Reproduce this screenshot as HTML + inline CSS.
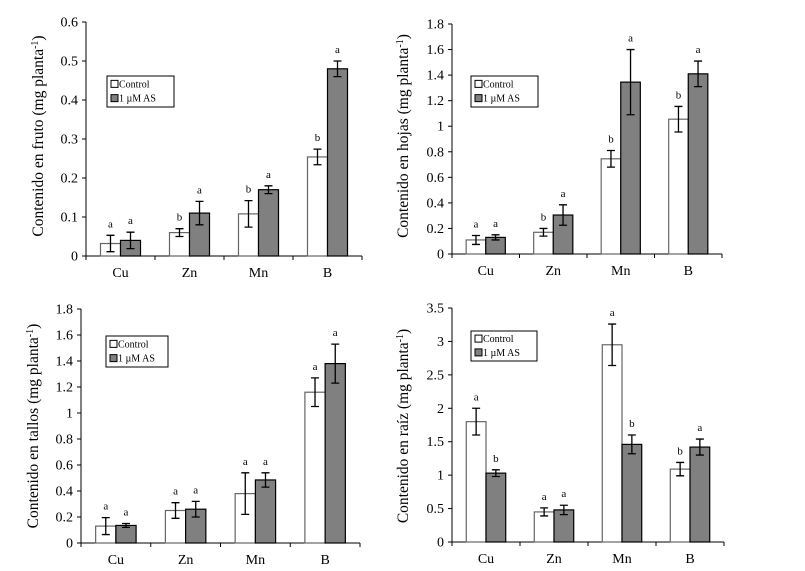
<!DOCTYPE html>
<html><head><meta charset="utf-8"><style>
body{margin:0;background:#fff;}
svg{display:block;}
svg text{font-family:"Liberation Serif","Times New Roman",serif;}
</style></head><body>
<svg id="c" width="805" height="571" viewBox="0 0 805 571" font-family="Liberation Serif, serif"></svg>
<script>
const categories=["Cu","Zn","Mn","B"];
const frutoCtl=[0.032,0.06,0.108,0.254], frutoCtlErr=[0.021,0.01,0.034,0.02];
const frutoAS=[0.04,0.11,0.17,0.48], frutoASErr=[0.021,0.03,0.01,0.02];
const frutoCtlLet=["a","b","b","b"], frutoASLet=["a","a","a","a"];
const frutoTicks=["0","0.1","0.2","0.3","0.4","0.5","0.6"];
const hojasCtl=[0.11,0.17,0.745,1.055], hojasCtlErr=[0.035,0.03,0.065,0.1];
const hojasAS=[0.13,0.305,1.345,1.41], hojasASErr=[0.02,0.08,0.255,0.1];
const hojasCtlLet=["a","b","b","b"], hojasASLet=["a","a","a","a"];
const hojasTicks=["0","0.2","0.4","0.6","0.8","1","1.2","1.4","1.6","1.8"];
const tallosCtl=[0.13,0.25,0.38,1.16], tallosCtlErr=[0.065,0.06,0.16,0.11];
const tallosAS=[0.135,0.26,0.485,1.38], tallosASErr=[0.015,0.06,0.055,0.15];
const tallosCtlLet=["a","a","a","a"], tallosASLet=["a","a","a","a"];
const tallosTicks=["0","0.2","0.4","0.6","0.8","1","1.2","1.4","1.6","1.8"];
const raizCtl=[1.8,0.45,2.95,1.09], raizCtlErr=[0.2,0.06,0.31,0.1];
const raizAS=[1.03,0.48,1.46,1.42], raizASErr=[0.05,0.07,0.14,0.12];
const raizCtlLet=["a","a","a","b"], raizASLet=["b","a","b","a"];
const raizTicks=["0","0.5","1","1.5","2","2.5","3","3.5"];

const svg=document.getElementById('c');
const NS="http://www.w3.org/2000/svg";
function mk(tag,at,txt){const e=document.createElementNS(NS,tag);for(const k in at)e.setAttribute(k,at[k]);if(tag==='text')e.setAttribute('font-family','Liberation Serif, serif');if(txt!==undefined)e.textContent=txt;svg.appendChild(e);return e;}

function panel(id,x0,x1,y0,yTop,ticks,ctl,ctlE,as,asE,ctlL,asL,title,lx,ly,lw,lh,labX,labY){
  const tv=ticks.map(Number);const max=tv[tv.length-1];
  const Y=v=>y0-(v/max)*(y0-yTop);
  const gw=(x1-x0)/categories.length;const bw=gw*0.29;
  let e;
  e=mk('line',{x1:x0,y1:yTop,x2:x0,y2:y0,stroke:'#000','stroke-width':1});
  
  e=mk('line',{x1:x0,y1:y0,x2:x1,y2:y0,stroke:'#000','stroke-width':1});
  
  ticks.forEach((t,i)=>{const y=Y(tv[i]);
    mk('line',{x1:x0-4,y1:y,x2:x0,y2:y,stroke:'#000'});
    e=mk('text',{x:x0-8,y:y+4.5,'text-anchor':'end','font-size':14},t);
    });
  for(let i=0;i<=categories.length;i++){const x=x0+i*gw;mk('line',{x1:x,y1:y0,x2:x,y2:y0+4,stroke:'#000'});}
  categories.forEach((c,i)=>{
    const gx=x0+i*gw;const cx=gx+gw/2;
    e=mk('text',{x:cx,y:y0+21,'text-anchor':'middle','font-size':14},c);
    
    [[ctl,ctlE,ctlL,'#fff','control',cx-bw],[as,asE,asL,'#808080','as',cx]].forEach(([v,er,L,f,n,bx])=>{
      const yv=Y(v[i]);
      e=mk('rect',{x:bx,y:yv,width:bw,height:y0-yv,fill:f,stroke:n==='control'?'#666':'#000','stroke-width':1.2});
      
      const ex=bx+bw/2,yh=Y(v[i]+er[i]),yl=Y(v[i]-er[i]);
      e=mk('path',{d:`M${ex},${yh}V${yl}M${ex-4},${yh}H${ex+4}M${ex-4},${yl}H${ex+4}`,stroke:'#000','stroke-width':1.3,fill:'none'});
      
      e=mk('text',{x:ex,y:yh-8,'text-anchor':'middle','font-size':11},L[i]);
      
    });
  });
  e=mk('rect',{x:lx,y:ly,width:lw,height:lh,fill:'#fff',stroke:'#000','stroke-width':1});
  
  mk('rect',{x:lx+4,y:ly+lh*0.27-4,width:7,height:7,fill:'#fff',stroke:'#000'});
  e=mk('text',{x:lx+12,y:ly+lh*0.27+3,'font-size':10},'Control');
  
  mk('rect',{x:lx+4,y:ly+lh*0.73-4,width:7,height:7,fill:'#808080',stroke:'#000'});
  e=mk('text',{x:lx+12,y:ly+lh*0.73+3,'font-size':10},'1 µM AS');
  
  e=mk('text',{x:labX,y:labY,'text-anchor':'middle','font-size':15.5,transform:`rotate(-90 ${labX} ${labY})`});
  e.innerHTML=title+' (mg planta<tspan dy="-5" font-size="10">-1</tspan><tspan dy="5">)</tspan>';
  
}
panel('fruto',86,362,256,22,frutoTicks,frutoCtl,frutoCtlErr,frutoAS,frutoASErr,frutoCtlLet,frutoASLet,'Contenido en fruto',107,76,67,31,43,136);
panel('hojas',452,722,254,24,hojasTicks,hojasCtl,hojasCtlErr,hojasAS,hojasASErr,hojasCtlLet,hojasASLet,'Contenido en hojas',471,76,67,31,408,136);
panel('tallos',81,360,543,309,tallosTicks,tallosCtl,tallosCtlErr,tallosAS,tallosASErr,tallosCtlLet,tallosASLet,'Contenido en tallos',106,336,62,31,38,426);
panel('raiz',452,724,542,308,raizTicks,raizCtl,raizCtlErr,raizAS,raizASErr,raizCtlLet,raizASLet,'Contenido en raíz',471,331,66,30,408,426);
</script>
</body></html>
